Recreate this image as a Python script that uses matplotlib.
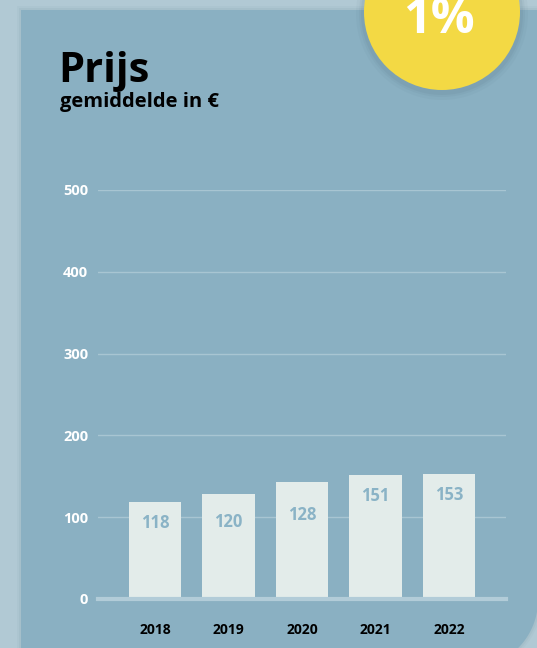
import numpy as np
import matplotlib.pyplot as plt
from matplotlib.patches import Circle, PathPatch
from matplotlib.path import Path

# Gegevens
jaren = ['2018', '2019', '2020', '2021', '2022']
hoogte = [119, 128, 143, 151, 153]      # hoogte van de balken zoals getekend
labels = [118, 120, 128, 151, 153]      # waarden die in de balken staan
yticks = [0, 100, 200, 300, 400, 500]

# Kleuren
buiten = '#b1c9d4'
paneel = '#8ab0c2'
balk = '#e3ecea'
raster = '#a8c5d2'
basis = '#b2ccd8'
geel = '#f3d944'

plt.rcParams['font.family'] = ['Open Sans', 'DejaVu Sans']

W, H = 537, 648
fig = plt.figure(figsize=(W / 100, H / 100), dpi=100)
fig.patch.set_facecolor(buiten)

# achtergrond in pixelcoordinaten
bg = fig.add_axes([0, 0, 1, 1])
bg.set_xlim(0, W)
bg.set_ylim(H, 0)
bg.axis('off')

def paneel_pad(x0, y0, x1, y1, r):
    # rechthoek met afgeronde hoek rechtsonder
    hoek = np.linspace(0, np.pi / 2, 30)
    cx, cy = x1 - r, y1 - r
    pts = [(x0, y0), (x1, y0), (x1, cy)]
    pts += [(cx + r * np.cos(a), cy + r * np.sin(a)) for a in hoek]
    pts += [(x0, y1), (x0, y0)]
    return Path(pts)

# schaduw + paneel
for d, a in [(4, 0.05), (2, 0.08)]:
    bg.add_patch(PathPatch(paneel_pad(21 - d, 10 - d, 538 + d, 668 + d, 68 + d),
                           facecolor='#5f7f8e', edgecolor='none', alpha=a))
bg.add_patch(PathPatch(paneel_pad(21, 10, 538, 668, 68), facecolor=paneel, edgecolor='none'))

# gele cirkel met schaduw
for d, a in [(8, 0.05), (5, 0.07), (3, 0.09)]:
    bg.add_patch(Circle((442, 14), 78 + d, facecolor='#4f6f7e', edgecolor='none', alpha=a))
bg.add_patch(Circle((442, 12), 78, facecolor=geel, edgecolor='none'))
bg.text(439, 33, '1%', color='white', fontsize=35, fontweight='bold', ha='center', va='baseline')

# titels
bg.text(58, 82, 'Prijs', color='black', fontsize=30, fontweight='bold', ha='left', va='baseline')
bg.text(60, 107, 'gemiddelde in €', color='black', fontsize=14.5, fontweight='bold', ha='left', va='baseline')

# grafiek
ax = fig.add_axes([98 / W, (H - 599) / H, 408 / W, 409 / H])
ax.set_facecolor('none')
x = np.arange(len(jaren))
ax.bar(x, hoogte, width=0.71, color=balk, zorder=2)
for xi, v in zip(x, labels):
    ax.annotate(str(v), (xi, v), xytext=(0, -15), textcoords='offset points',
                ha='center', va='center', color='#8ab3c6', fontsize=12,
                fontweight='bold', zorder=4)

ax.set_xlim(-0.776, 4.776)
ax.set_ylim(0, 500)
ax.set_yticks(yticks)
ax.set_yticklabels([str(t) for t in yticks])
ax.set_xticks(x)
ax.set_xticklabels(jaren)
ax.tick_params(axis='y', length=0, pad=7, labelcolor='white', labelsize=10.5)
ax.tick_params(axis='x', length=0, pad=17, labelcolor='black', labelsize=10)
for lab in ax.get_yticklabels() + ax.get_xticklabels():
    lab.set_fontweight('bold')
for t in yticks[1:]:
    ax.axhline(t, color=raster, lw=1, zorder=1)
ax.axhline(0, color=basis, lw=3, zorder=3, clip_on=False)
for s in ax.spines.values():
    s.set_visible(False)

fig.savefig('out.png', dpi=100, facecolor=fig.get_facecolor())
